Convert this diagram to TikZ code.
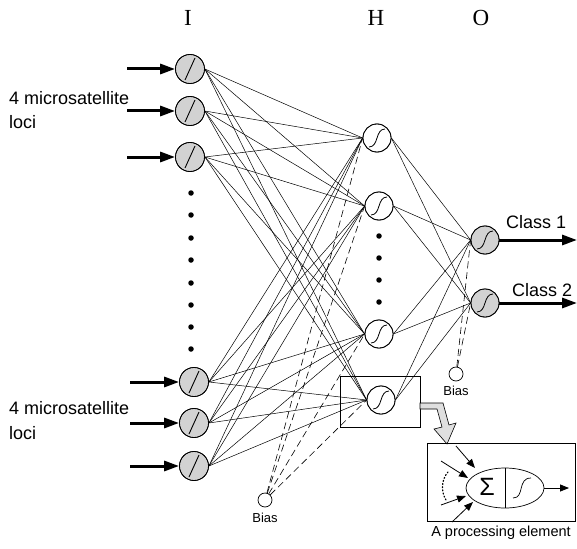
\documentclass[tikz,border=0pt]{standalone}
\usepackage{fontspec}
\setmainfont{Liberation Sans}
\newfontfamily\seriffont{Liberation Serif}
\usetikzlibrary{arrows.meta,shapes.geometric,calc}
\tikzset{
  inp/.style={circle,draw,fill=gray!35,minimum size=29pt,inner sep=0pt,line width=0.8pt},
  hid/.style={circle,draw,fill=white,minimum size=28pt,inner sep=0pt,line width=0.8pt},
  outn/.style={circle,draw,fill=gray!35,minimum size=28pt,inner sep=0pt,line width=0.8pt},
  biasn/.style={circle,draw,fill=white,minimum size=14pt,inner sep=0pt,line width=0.7pt},
  conn/.style={line width=0.5pt},
  bconn/.style={line width=0.6pt,dash pattern=on 7pt off 4pt},
  bigarrow/.style={line width=3pt,-{Triangle[length=15pt,width=10pt]}},
  smallarrow/.style={line width=0.8pt,-{Triangle[length=9pt,width=7pt]}},
  lbl/.style={font=\fontsize{18}{20}\selectfont,align=left,anchor=west,inner sep=0pt},
  blbl/.style={font=\fontsize{13}{15}\selectfont,inner sep=0pt},
  layer/.style={font=\seriffont\fontsize{23}{25}\selectfont,inner sep=0pt},
  dotn/.style={circle,fill=black,minimum size=5.5pt,inner sep=0pt},
}
\newcommand{\myslash}[1]{\draw[line width=0.9pt] ($(#1)+(-5,11)$) -- ($(#1)+(5,-11)$);}
\newcommand{\mysigm}[1]{\draw[line width=0.8pt] ($(#1)+(-8,9)$) .. controls ($(#1)+(2,9)$) and ($(#1)+(-2,-9)$) .. ($(#1)+(8,-9)$);}
\begin{document}
\begin{tikzpicture}[x=1pt,y=-1pt]
\useasboundingbox (0,0) rectangle (577,548);
% layer labels
\node[layer] (lI) at (188,18) {I};
\node[layer] (lH) at (376,18) {H};
\node[layer] (lO) at (481,18) {O};
% PE highlight box (behind)
\node[draw,line width=0.7pt,minimum width=80pt,minimum height=51pt,inner sep=0pt] (pebox) at (380,402) {};
% input nodes
\node[inp] (i1) at (190,69) {};
\node[inp] (i2) at (190,111) {};
\node[inp] (i3) at (190,157) {};
\node[inp] (i4) at (194,382) {};
\node[inp] (i5) at (194,423) {};
\node[inp] (i6) at (194,466) {};
% hidden nodes
\node[hid] (h1) at (377,138) {};
\node[hid] (h2) at (379,206) {};
\node[hid] (h3) at (379,334) {};
\node[hid] (h4) at (381,400) {};
% output nodes
\node[outn] (o1) at (485,240) {};
\node[outn] (o2) at (485,303) {};
% bias nodes
\node[biasn] (b1) at (265,500) {};
\node[blbl] (b1l) at (265,518) {Bias};
\node[biasn] (b2) at (456,374) {};
\node[blbl] (b2l) at (456,391) {Bias};
% connections
\foreach \i in {i1,i2,i3,i4,i5,i6}
  \foreach \h in {h1,h2,h3,h4}
    \draw[conn] (\i.east) -- (\h.west);
\foreach \h in {h1,h2,h3,h4}
  \foreach \o in {o1,o2}
    \draw[conn] (\h.east) -- (\o.west);
\foreach \h in {h1,h2,h3,h4}
  \draw[bconn] (b1) -- (\h.west);
\foreach \o in {o1,o2}
  \draw[bconn] (b2) -- (\o.west);
% redraw node bodies on top of connectors
\foreach \n in {i1,i2,i3,i4,i5,i6} {\fill[gray!35] (\n) circle (14pt); \draw[line width=0.8pt] (\n) circle (14.5pt); \myslash{\n}}
\foreach \n in {h1,h2,h3,h4} {\fill[white] (\n) circle (13.6pt); \draw[line width=0.8pt] (\n) circle (14pt); \mysigm{\n}}
\foreach \n in {o1,o2} {\fill[gray!35] (\n) circle (13.6pt); \draw[line width=0.8pt] (\n) circle (14pt); \mysigm{\n}}
% dots
\foreach \y [count=\k] in {193,215,238,260,283,305,327,349}
  \node[dotn] (di\k) at (191,\y) {};
\foreach \y [count=\k] in {236,258,280,302}
  \node[dotn] (dh\k) at (379,\y) {};
% input arrows
\coordinate (a1) at (127,69);
\coordinate (a2) at (127,111);
\coordinate (a3) at (127,157);
\coordinate (a4) at (130,382);
\coordinate (a5) at (130,423);
\coordinate (a6) at (130,466);
\draw[bigarrow] (a1) -- (i1.west);
\draw[bigarrow] (a2) -- (i2.west);
\draw[bigarrow] (a3) -- (i3.west);
\draw[bigarrow] (a4) -- (i4.west);
\draw[bigarrow] (a5) -- (i5.west);
\draw[bigarrow] (a6) -- (i6.west);
% output arrows
\coordinate (c1) at (577,240);
\coordinate (c2) at (577,303);
\draw[bigarrow] (o1.east) -- (c1);
\draw[bigarrow] (o2.east) -- (c2);
\node[lbl] (cl1) at (506,222) {Class 1};
\node[lbl] (cl2) at (512,290) {Class 2};
% loci labels
\node[lbl] (t1) at (9,98) {4 microsatellite};
\node[lbl] (t2) at (9,122) {loci};
\node[lbl] (t3) at (9,408) {4 microsatellite};
\node[lbl] (t4) at (9,433) {loci};
% hollow block arrow
\draw[line width=0.6pt,fill=gray!25] (420,403) -- (443,403) -- (449,425) -- (456,423) -- (447,444) -- (434,429) -- (442,427) -- (437,409) -- (420,409) -- cycle;
% processing element box
\node[draw,line width=0.7pt,minimum width=148pt,minimum height=78pt,inner sep=0pt] (pe) at (501,482) {};
\node[ellipse,draw,line width=0.7pt,minimum width=78pt,minimum height=40pt,inner sep=0pt] (el) at (505,488) {};
\draw[line width=0.7pt] (el.north) -- (el.south);
\node[font=\fontsize{25}{27}\selectfont,inner sep=0pt] (sig) at (487,487) {Σ};
\draw[line width=0.7pt] (513,498) .. controls (525,498) and (517,478) .. (531,478);
\coordinate (oe) at (569,488);
\draw[smallarrow] (el.east) -- (oe);
\coordinate (p1) at (456,446);
\coordinate (p2) at (441,461);
\coordinate (p3) at (441,505);
\coordinate (p4) at (452,522);
\draw[smallarrow] (p1) -- (475,468);
\draw[smallarrow] (p2) -- (468,478);
\draw[smallarrow] (p3) -- (466,496);
\draw[smallarrow] (p4) -- (473,502);
\draw[line width=1.2pt,dash pattern=on 1pt off 2.2pt,line cap=round] (448,472) .. controls (441,480) and (441,492) .. (446,500);
\node[font=\fontsize{14.5}{16}\selectfont,inner sep=0pt] (pel) at (501,533) {A processing element};
\end{tikzpicture}
\end{document}
